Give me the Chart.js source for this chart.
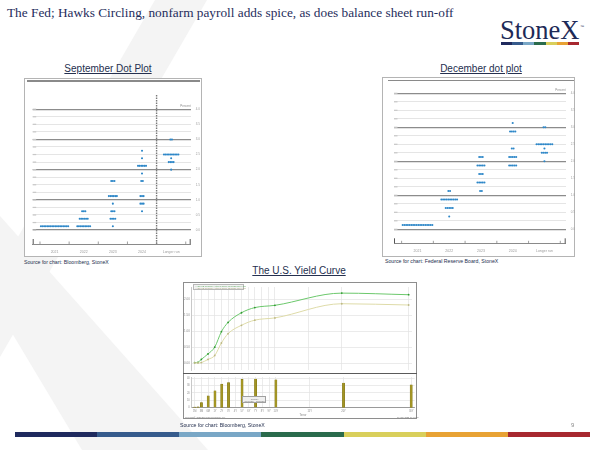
<!DOCTYPE html>
<html><head><meta charset="utf-8">
<script src="https://cdn.jsdelivr.net/npm/chart.js@4.4.0/dist/chart.umd.min.js"></script>
<style>
html,body{margin:0;padding:0;width:600px;height:450px;overflow:hidden;background:#fff;font-family:"Liberation Sans",Arial,sans-serif;}
.abs{position:absolute;}
.ttl{position:absolute;font-size:10px;line-height:12px;color:#25304f;text-decoration:underline;white-space:nowrap;transform:translateX(-50%);}
.src{position:absolute;font-size:5.2px;line-height:6px;color:#25304f;white-space:nowrap;}
.box{position:absolute;box-sizing:border-box;background:#fff;border:1px solid #b4b4b4;}
.tiny{position:absolute;white-space:nowrap;color:#777;}
</style></head><body>
<svg class="abs" style="left:0;top:0" width="600" height="450">
  <polygon points="155,0 207,0 0,357 0,268" fill="#f4f4f4"/>
  <polygon points="0,216 0,313 82,450 208,450" fill="#f4f4f4"/>
</svg>

<div class="abs" style="left:7px;top:5px;font-family:'Liberation Serif','Times New Roman',serif;font-size:13.3px;line-height:15px;color:#1f2d5c;white-space:nowrap;">The Fed; Hawks Circling, nonfarm payroll adds spice, as does balance sheet run-off</div>

<div class="abs" style="left:500px;top:17px;font-family:'Liberation Serif','Times New Roman',serif;font-size:26.5px;line-height:26px;color:#1d2a57;white-space:nowrap;">StoneX</div>
<div class="abs" style="left:580px;top:24px;font-size:4px;color:#1d2a57;">™</div>
<div class="abs" id="logoStripe" style="left:501px;top:42px;width:78px;height:3px;display:flex;"></div>

<!-- September -->
<div class="ttl" style="left:108px;top:62.5px;">September Dot Plot</div>
<div class="box" style="left:24px;top:78px;width:178px;height:179px;"></div>
<div class="abs" style="left:27px;top:80px;width:173px;height:1.5px;background:#8a8a8a;"></div>
<canvas id="sep" class="abs" style="left:24px;top:78px;" width="178" height="179"></canvas>
<div class="src" style="left:24px;top:258.5px;">Source for chart: Bloomberg, StoneX</div>

<!-- December -->
<div class="ttl" style="left:481px;top:62.5px;">December dot plot</div>
<div class="box" style="left:382px;top:77px;width:193px;height:180px;"></div>
<div class="abs" style="left:388px;top:79.5px;width:186px;height:1.5px;background:#8a8a8a;"></div>
<canvas id="dec" class="abs" style="left:382px;top:77px;" width="193" height="180"></canvas>
<div class="src" style="left:385px;top:258px;">Source for chart: Federal Reserve Board, StoneX</div>

<!-- Yield curve -->
<div class="ttl" style="left:299px;top:264.5px;">The U.S. Yield Curve</div>
<div class="box" style="left:183px;top:282px;width:234px;height:137px;border-color:#8e8e8e;"></div>
<canvas id="ycUp" class="abs" style="left:184px;top:283px;" width="232" height="91"></canvas>
<canvas id="ycDn" class="abs" style="left:184px;top:374px;" width="232" height="44"></canvas>
<div class="abs" style="left:183px;top:373.3px;width:234px;height:1px;background:#5a5a5a;"></div>
<div class="abs" style="left:192.7px;top:283.5px;width:51px;height:6px;box-sizing:border-box;background:#f3f3f3;border:0.5px solid #b8b8b8;">
  <div class="tiny" style="left:1px;top:0.3px;font-size:2.2px;line-height:2.5px;color:#5aa85a;">— I25 US Treasury Actives Curve 01/07/22 Mid YTM</div>
  <div class="tiny" style="left:1px;top:2.8px;font-size:2.2px;line-height:2.5px;color:#a8a47a;">— I25 US Treasury Actives Curve 12/15/21 Mid YTM</div>
</div>
<div class="abs" style="left:241.7px;top:396px;width:24px;height:6.7px;box-sizing:border-box;background:#f0f0f0;border:0.5px solid #a0a0a0;">
  <div class="tiny" style="left:8px;top:0.5px;font-size:2.2px;line-height:2.5px;">Change</div>
  <div class="tiny" style="left:1.5px;top:3.2px;font-size:2.2px;line-height:2.5px;">(01/07/22 − 12/15/21)</div>
</div>
<div class="tiny" style="left:185px;top:416.2px;font-size:2.2px;line-height:2.4px;">Copyright© 2022 Bloomberg Finance L.P.</div>
<div class="tiny" style="left:397px;top:416.2px;font-size:2.2px;line-height:2.4px;">07-Jan-2022 14:40:22</div>
<div class="src" style="left:180px;top:421.5px;">Source for chart: Bloomberg, StoneX</div>

<div class="abs" style="left:571px;top:422px;font-size:6px;color:#8a8a8a;">9</div>
<div class="abs" id="footStripe" style="left:15px;top:431.5px;width:575px;height:5.5px;display:flex;"></div>

<script>
// ---------- brand stripe colours ----------
const stripeColors = ['#1f2a5e','#365b8c','#79a7c6','#2a6b4c','#d9cf5b','#e8a234','#a7282f'];
['logoStripe','footStripe'].forEach(id=>{
  const el=document.getElementById(id);
  stripeColors.forEach(c=>{const d=document.createElement('div');d.style.flex='1';d.style.background=c;el.appendChild(d);});
});

// ---------- dot plot data: [rate, number of participants] ----------
const dotColumns = ['2021','2022','2023','2024','Longer run'];
const sep2021 = [[0.125,18]];
const sep2022 = [[0.125,9],[0.375,6],[0.625,3]];
const sep2023 = [[0.125,1],[0.375,4],[0.625,3],[0.875,1],[1.125,6],[1.625,3]];
const sep2024 = [[0.625,1],[0.875,3],[1.125,3],[1.625,2],[1.875,1],[2.125,6],[2.375,1],[2.625,1]];
const sepLonger = [[2.0,1],[2.25,4],[2.375,1],[2.5,10],[3.0,2]];
const dec2021 = [[0.125,18]];
const dec2022 = [[0.375,1],[0.625,5],[0.875,10],[1.125,2]];
const dec2023 = [[1.125,2],[1.375,5],[1.625,3],[1.875,5],[2.125,3]];
const dec2024 = [[1.875,5],[2.125,5],[2.375,2],[2.875,4],[3.125,1]];
const decLonger = [[2.0,1],[2.25,4],[2.375,1],[2.5,10],[3.0,2]];

// ---------- yield curve data ----------
const tenorLabels = ['1M','2M','3M','6M','1Y','2Y','3Y','5Y','7Y','10Y','20Y','30Y'];
const tenorYears  = [1/12,2/12,0.25,0.5,1,2,3,5,7,10,20,30];
const yieldLatest = [0.03,0.04,0.13,0.30,0.51,0.99,1.28,1.58,1.74,1.81,2.19,2.14];
const yieldPrior  = [0.02,0.02,0.03,0.13,0.25,0.64,0.93,1.19,1.35,1.42,1.86,1.82];
const changeBp    = [1,1.3,7,16,23,32,34,38.5,39,38,33.5,31];
const axisTickLabels = ['1M','3M','6M','1Y','2Y','3Y','4Y','5Y','6Y','7Y','8Y','9Y','10Y','15Y','20Y','30Y'];
const axisTickYears  = [1/12,0.25,0.5,1,2,3,4,5,6,7,8,9,10,15,20,30];
const yieldTicks = [0,0.5,1,1.5,2];
const changeTicks = [0,5,10,15,20,25,30,35,40];

Chart.defaults.font.family = '"Liberation Sans", Arial, sans-serif';
Chart.defaults.animation = false;

const DOT_STEP = 0.055;
function dotPoints(cols){
  const pts=[];
  cols.forEach((col,ci)=>col.forEach(([rate,n])=>{
    for(let k=0;k<n;k++) pts.push({x:ci+0.5+(k-(n-1)/2)*DOT_STEP, y:rate});
  }));
  return pts;
}
const isMajor = v => Math.abs(v-Math.round(v))<1e-6;

const fedDecor = {
  id:'fedDecor',
  beforeDatasetsDraw(chart, args, opts){
    const {ctx, chartArea:a, scales:{x,y}} = chart;
    ctx.save();
    if (opts.divider!=null){
      const px=x.getPixelForValue(opts.divider);
      ctx.strokeStyle='#7a7a7a'; ctx.lineWidth=1.4; ctx.setLineDash([1.5,1]);
      ctx.beginPath(); ctx.moveTo(px,a.top); ctx.lineTo(px,a.bottom); ctx.stroke();
      ctx.setLineDash([]);
    }
    ctx.strokeStyle='#888'; ctx.lineWidth=0.8;
    for(let v=0;v<=5;v++){const px=x.getPixelForValue(v);ctx.beginPath();ctx.moveTo(px,a.bottom);ctx.lineTo(px,a.bottom-2.5);ctx.stroke();}
    ctx.strokeStyle='#555'; ctx.lineWidth=1;
    [a.left+0.5,a.right-0.5].forEach(px=>{ctx.beginPath();ctx.moveTo(px,a.bottom);ctx.lineTo(px,a.bottom-5);ctx.stroke();});
    ctx.fillStyle='#c8c8c8';
    for(let v=0;v<=4.0001;v+=0.25){const py=y.getPixelForValue(v);ctx.fillRect(a.left,py-0.6,3.5,1.2);}
    ctx.fillStyle='#8a8a8a'; ctx.font='3px "Liberation Sans"'; ctx.textAlign='right';
    ctx.fillText('Percent', a.right, y.getPixelForValue(4)-2.5);
    ctx.restore();
  }
};

function dotChart(id, cols, cfg){
  new Chart(document.getElementById(id), {
    type:'scatter',
    data:{datasets:[{data:dotPoints(cols), pointRadius:1.05, pointBackgroundColor:'#2d87c8', pointBorderWidth:0, pointHoverRadius:1.05}]},
    options:{
      responsive:false, devicePixelRatio:1, animation:false,
      layout:{padding:{left:cfg.padL, top:cfg.padT, right:0, bottom:0}},
      plugins:{legend:{display:false}, tooltip:{enabled:false}, fedDecor:{divider:cfg.divider}},
      scales:{
        x:{type:'linear', min:cfg.xMin, max:cfg.xMax,
          afterBuildTicks:s=>{s.ticks=dotColumns.map((_,i)=>({value:i+0.5}));},
          ticks:{callback:(v,i)=>dotColumns[i], font:{size:3.5}, color:'#9a9a9a', autoSkip:false, maxRotation:0, padding:6},
          grid:{display:false, drawTicks:false}, border:{display:true, color:'#8a8a8a', width:1},
          afterFit:s=>{s.height=cfg.xH;}},
        y:{type:'linear', position:'right', min:cfg.yMin, max:cfg.yMax,
          afterBuildTicks:s=>{const t=[];for(let v=0;v<=4.0001;v+=0.25)t.push({value:Math.round(v*100)/100});s.ticks=t;},
          ticks:{callback:v=>Math.abs(v*2-Math.round(v*2))<1e-6?v.toFixed(1):'', font:{size:3}, color:'#9a9a9a', autoSkip:false, padding:5},
          grid:{drawTicks:false, color:c=>isMajor(c.tick.value)?'#8c8c8c':'#dedede', lineWidth:c=>isMajor(c.tick.value)?1.2:0.8},
          border:{display:false},
          afterFit:s=>{s.width=cfg.yW;}}
      }
    },
    plugins:[fedDecor]
  });
}

dotChart('sep',[sep2021,sep2022,sep2023,sep2024,sepLonger],
  {padL:8.7,padT:17,xH:13,yW:11.3,xMin:-0.25,xMax:5.17,yMin:-0.46,yMax:4.47,divider:4});
dotChart('dec',[dec2021,dec2022,dec2023,dec2024,decLonger],
  {padL:12,padT:11,xH:13.7,yW:9.3,xMin:-0.24,xMax:5.17,yMin:-0.412,yMax:4.156,divider:null});

// Bloomberg-style tenor axis: short end stretched, years linear from 1Y
function tenorPos(t){
  const k=[[1/12,-2],[0.25,-1],[0.5,0],[1,1]];
  if(t>=1) return t;
  for(let i=0;i<k.length-1;i++) if(t<=k[i+1][0]) return k[i][1]+(t-k[i][0])/(k[i+1][0]-k[i][0])*(k[i+1][1]-k[i][1]);
  return -2;
}
const xTickPositions = axisTickYears.map(tenorPos);
const gridCol = '#e3e3e3';

new Chart(document.getElementById('ycUp'),{
  type:'line',
  data:{datasets:[
    {data:tenorYears.map((t,i)=>({x:tenorPos(t),y:yieldPrior[i]})), borderColor:'#dedba8', borderWidth:1, pointRadius:0.9, pointBackgroundColor:'#bdb985', pointBorderWidth:0, cubicInterpolationMode:'monotone'},
    {data:tenorYears.map((t,i)=>({x:tenorPos(t),y:yieldLatest[i]})), borderColor:'#6cc86c', borderWidth:1, pointRadius:0.9, pointBackgroundColor:'#2f9a2f', pointBorderWidth:0, cubicInterpolationMode:'monotone'}
  ]},
  options:{
    responsive:false, devicePixelRatio:1, animation:false,
    layout:{padding:{left:0,top:1,right:0.3,bottom:0}},
    plugins:{legend:{display:false},tooltip:{enabled:false}},
    scales:{
      x:{type:'linear',min:-2.5,max:30.5,
        afterBuildTicks:s=>{s.ticks=xTickPositions.map(v=>({value:v}));},
        ticks:{display:false}, grid:{color:gridCol,lineWidth:0.7,drawTicks:false}, border:{display:false},
        afterFit:s=>{s.height=0;}},
      y:{type:'linear',min:-0.2,max:2.38,
        afterBuildTicks:s=>{s.ticks=yieldTicks.map(v=>({value:v}));},
        ticks:{callback:v=>v.toFixed(2),font:{size:3},color:'#8a8a8a',padding:1.5},
        grid:{color:gridCol,lineWidth:0.7,drawTicks:false}, border:{display:true,color:'#c8c8c8'},
        afterFit:s=>{s.width=7.3;}}
    }
  }
});

new Chart(document.getElementById('ycDn'),{
  type:'bar',
  data:{datasets:[{data:tenorYears.map((t,i)=>({x:tenorPos(t),y:changeBp[i]})), backgroundColor:'#a39524', borderColor:'#776c10', borderWidth:0.4, barThickness:2.2}]},
  options:{
    responsive:false, devicePixelRatio:1, animation:false,
    layout:{padding:{left:0,top:1,right:0.3,bottom:0}},
    plugins:{legend:{display:false},tooltip:{enabled:false}},
    scales:{
      x:{type:'linear',min:-2.5,max:30.5,offset:false,
        afterBuildTicks:s=>{s.ticks=xTickPositions.map(v=>({value:v}));},
        ticks:{callback:(v,i)=>axisTickLabels[i],font:{size:2.6},color:'#8a8a8a',autoSkip:false,maxRotation:0,padding:2.5},
        grid:{color:gridCol,lineWidth:0.7,drawTicks:false,offset:false}, border:{display:true,color:'#9a9a9a'},
        title:{display:true,text:'Tenor',font:{size:2.8},color:'#8a8a8a',padding:{top:0,bottom:1}},
        afterFit:s=>{s.height=10.3;}},
      y:{type:'linear',min:0,max:41.6,
        afterBuildTicks:s=>{s.ticks=changeTicks.map(v=>({value:v}));},
        ticks:{callback:v=>String(v),font:{size:2.6},color:'#8a8a8a',padding:1.5},
        grid:{color:gridCol,lineWidth:0.7,drawTicks:false}, border:{display:true,color:'#c8c8c8'},
        afterFit:s=>{s.width=7.3;}}
    }
  }
});
</script>
</body></html>
